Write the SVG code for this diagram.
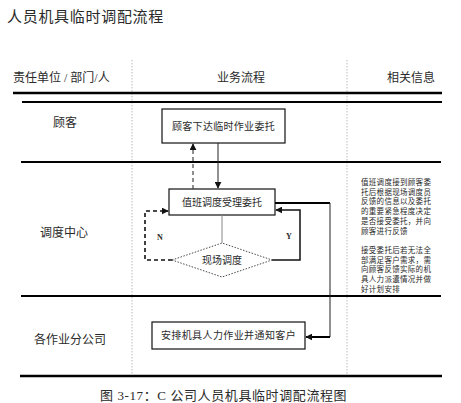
<svg xmlns="http://www.w3.org/2000/svg" width="461" height="403" viewBox="0 0 461 403">
<defs>
<style>
text{font-family:"Liberation Serif","Noto Sans CJK SC",serif;fill:#2a2a2a;}
.hd{font-size:12px;}
.bx{font-size:10px;text-anchor:middle;}
.node rect{fill:#fff;stroke:#111;stroke-width:1.2;}
.sep{stroke:#000;stroke-width:2.2;}
.vd{stroke:#bbb;stroke-width:1;stroke-dasharray:1.5,1.5;}
.info{font-size:7.5px;letter-spacing:0.3px;}
</style>
<marker id="ah" viewBox="0 0 10 10" refX="9" refY="5" markerWidth="7" markerHeight="7" markerUnits="userSpaceOnUse" orient="auto">
<path d="M0,0 L10,5 L0,10 z" fill="#111"/>
</marker>
</defs>
<rect width="461" height="403" fill="#fff"/>
<text x="7" y="22" style="font-size:15px;letter-spacing:0.7px">人员机具临时调配流程</text>
<g id="frame">
<line class="vd" x1="132" y1="60" x2="132" y2="376"/>
<line class="vd" x1="347" y1="60" x2="347" y2="376"/>
<line x1="13" y1="93" x2="442" y2="93" stroke="#000" stroke-width="2.5"/>
<line x1="22" y1="102" x2="442" y2="102" stroke="#000" stroke-width="2"/>
<line class="sep" x1="21" y1="162" x2="441" y2="162"/>
<line class="sep" x1="21" y1="296" x2="441" y2="296"/>
<line x1="20" y1="376" x2="442" y2="376" stroke="#000" stroke-width="2.5"/>
<text class="hd" x="13" y="82">责任单位 / 部门/人</text>
<text class="hd" x="241" y="82" text-anchor="middle">业务流程</text>
<text class="hd" x="411" y="82" text-anchor="middle">相关信息</text>
<text class="hd" x="65" y="127" text-anchor="middle">顾客</text>
<text class="hd" x="64" y="237" text-anchor="middle">调度中心</text>
<text class="hd" x="70" y="344" text-anchor="middle">各作业分公司</text>
</g>
<g id="n1" class="node">
<rect x="162" y="109" width="123" height="34"/>
<text class="bx" x="223.5" y="130" style="letter-spacing:0.3px">顾客下达临时作业委托</text>
</g>
<g id="n2" class="node">
<rect x="169" y="189" width="106" height="26"/>
<text class="bx" x="222" y="206">值班调度受理委托</text>
</g>
<g id="n3">
<path d="M172,260 L222,243 L272,260 L222,277 Z" fill="#fff" stroke="#333" stroke-width="0.9" stroke-dasharray="1.5,1.5"/>
<text class="bx" x="222" y="264">现场调度</text>
</g>
<g id="n4" class="node">
<rect x="152" y="322" width="153" height="27"/>
<text class="bx" x="228.5" y="339" style="letter-spacing:0.4px">安排机具人力作业并通知客户</text>
</g>
<g id="info">
<text class="info" x="361" y="185">值班调度接到顾客委</text>
<text class="info" x="361" y="194.7">托后根据现场调度员</text>
<text class="info" x="361" y="204.4">反馈的信息以及委托</text>
<text class="info" x="361" y="214.1">的重要紧急程度决定</text>
<text class="info" x="361" y="223.8">是否接受委托，并向</text>
<text class="info" x="361" y="233.5">顾客进行反馈</text>
<text class="info" x="361" y="253">接受委托后若无法全</text>
<text class="info" x="361" y="262.7">部满足客户需求，需</text>
<text class="info" x="361" y="272.4">向顾客反馈实际的机</text>
<text class="info" x="361" y="282.1">具人力派遣情况并做</text>
<text class="info" x="361" y="291.8">好计划安排</text>
</g>
<g id="connectors" fill="none">
<line x1="193" y1="189" x2="193" y2="144" stroke="#444" stroke-width="1.2" stroke-dasharray="4,3" marker-end="url(#ah)"/>
<line x1="218" y1="143" x2="218" y2="188" stroke="#222" stroke-width="1" marker-end="url(#ah)"/>
<line x1="222" y1="215" x2="222" y2="243" stroke="#888" stroke-width="1"/>
<path d="M172,260 H145 V211 H168" stroke="#111" stroke-width="1.6" stroke-dasharray="4,3" marker-end="url(#ah)"/>
<path d="M272,260 H300 V210 H276" stroke="#111" stroke-width="1.5" marker-end="url(#ah)"/>
<path d="M275,203 H330" stroke="#000" stroke-width="2"/>
<path d="M330,203 V337" stroke="#222" stroke-width="1"/>
<path d="M330,337 H306" stroke="#000" stroke-width="2" marker-end="url(#ah)"/>
<text x="157" y="240" style="font-size:8px;font-weight:bold">N</text>
<text x="286" y="239" style="font-size:8px;font-weight:bold">Y</text>
</g>
<text x="100" y="400" style="font-size:13px;letter-spacing:0.6px">图 3-17：C 公司人员机具临时调配流程图</text>
</svg>
